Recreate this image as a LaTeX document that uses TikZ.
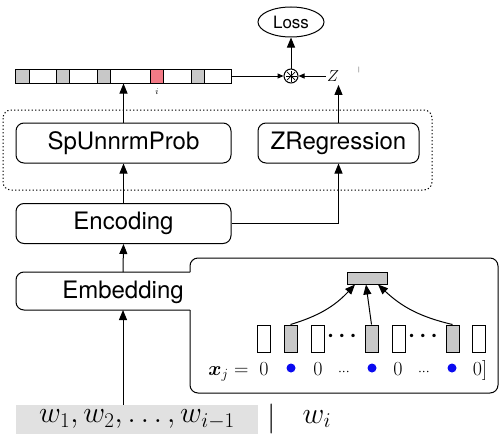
\RequirePackage{fix-cm}
\documentclass[tikz,border=0pt]{standalone}
\usepackage{amsmath}
\usepackage{bm}
\usepackage{fontspec}
\setmainfont{TeX Gyre Heros}
\usetikzlibrary{arrows.meta,shapes.geometric,calc}
\definecolor{cellgray}{RGB}{200,200,200}
\definecolor{cellpink}{RGB}{242,122,134}
\definecolor{ctxgray}{RGB}{225,225,225}
\definecolor{dotblue}{RGB}{10,10,240}
\tikzset{
  x=1pt, y=-1pt,
  every path/.style={line width=1pt},
  box/.style={draw, rounded corners=8pt, minimum height=40pt, inner sep=0pt, font=\fontsize{24}{28}\selectfont},
  arr/.style={-{Triangle[length=10pt,width=8pt]}},
  sarr/.style={-{Triangle[length=6pt,width=5pt]}},
  slot/.style={draw, minimum width=13pt, minimum height=27pt, inner sep=0pt},
  rowtxt/.style={font=\fontsize{20}{24}\selectfont, inner sep=0pt, anchor=base},
  gapdots/.style={font=\fontsize{22}{26}\selectfont\boldmath, inner sep=0pt},
  bdot/.style={circle, fill=dotblue, minimum size=9pt, inner sep=0pt},
}
\begin{document}
\begin{tikzpicture}
\useasboundingbox (0,0) rectangle (502,444);
% probability bar
\node[minimum width=216pt, minimum height=14pt, inner sep=0pt] (bar) at (123,76) {};
\foreach \a/\b/\c in {15/29/cellgray,29/56/white,56/69/cellgray,69/97/white,97/110/cellgray,110/150/white,150/163/cellpink,163/191/white,191/204/cellgray,204/231/white}
  \filldraw[fill=\c] (\a,69) rectangle (\b,83);
\node[font=\fontsize{9}{10}\selectfont, inner sep=0pt] (ilab) at (157,92) {$i$};
% combination
\node[circle, draw, minimum size=14pt, inner sep=0pt] (mul) at (291,76) {};
\foreach \ang in {0,45,90,135}
  \draw[line width=0.7pt] ($(mul)+(\ang:5.5)$) -- ($(mul)+(\ang+180:5.5)$);
\node[ellipse, draw, minimum width=66pt, minimum height=30pt, inner sep=0pt, font=\fontsize{17}{20}\selectfont] (loss) at (291,22) {Loss};
\node[font=\fontsize{16}{19}\selectfont, inner sep=1pt] (Z) at (333,76) {$Z$};
\node[font=\fontsize{9}{10}\selectfont, inner sep=0pt] (zt) at (359,70) {$\scriptstyle|$};
% dotted group
\draw[dash pattern=on 1.3pt off 2.2pt, rounded corners=8pt] (3,110) rectangle (432,190);
\node[box, minimum width=215pt] (sp) at (123.5,143) {SpUnnrmProb};
\node[box, minimum width=161pt] (zr) at (338.5,143) {ZRegression};
\node[box, minimum width=215pt] (enc) at (123.5,223.5) {Encoding};
% embedding with callout
\node[inner sep=0pt, font=\fontsize{24}{28}\selectfont] (emb) at (123,292) {Embedding};
\coordinate (embT) at (123,272);
\coordinate (embB) at (123,310);
\draw[rounded corners=8pt] (190,272) -- (16,272) -- (16,310) -- (190,310);
\draw[rounded corners=8pt] (190,310) -- (190,393) -- (498,393) -- (498,258) -- (190,258) -- (190,272);
% inset
\node[draw, fill=cellgray, minimum width=40pt, minimum height=12pt, inner sep=0pt] (agg) at (367,278) {};
\node[slot] (s1) at (263.5,338.5) {};
\node[slot, fill=cellgray] (s2) at (290.5,338.5) {};
\node[slot] (s3) at (317.5,338.5) {};
\node[slot, fill=cellgray] (s4) at (371.5,338.5) {};
\node[slot] (s5) at (398.5,338.5) {};
\node[slot, fill=cellgray] (s6) at (452.5,338.5) {};
\node[slot] (s7) at (478.5,338.5) {};
\node[gapdots] (d1) at (344,336) {$\cdots$};
\node[gapdots] (d2) at (425,336) {$\cdots$};
\draw[arr] (s2.north) to[bend right=15] ($(agg.south)+(-12,0)$);
\draw[arr] (s4.north) -- ($(agg.south)+(-1,0)$);
\draw[arr] (s6.north) to[bend left=15] ($(agg.south)+(11,0)$);
\node[rowtxt, anchor=base east] (xj) at (249,375) {$\bm{x}_j =$};
\node[rowtxt] (z1) at (264,375) {$0$};
\node[bdot] (b1) at (291,368) {};
\node[rowtxt] (z2) at (318,375) {$0$};
\node[rowtxt] (c1) at (345,375) {$\scriptstyle\cdots$};
\node[bdot] (b2) at (372,368) {};
\node[rowtxt] (z3) at (398,375) {$0$};
\node[rowtxt] (c2) at (425,375) {$\scriptstyle\cdots$};
\node[bdot] (b3) at (452,368) {};
\node[rowtxt] (z4) at (480,375) {$0]$};
% context
\node[fill=ctxgray, minimum width=242pt, minimum height=29pt, inner sep=0pt, font=\fontsize{30}{34}\selectfont] (ctx) at (137,419.5) {$w_1, w_2, \ldots, w_{i-1}$};
\node[inner sep=0pt, font=\fontsize{30}{34}\selectfont] (sep) at (272,419) {$|$};
\node[inner sep=0pt, font=\fontsize{30}{34}\selectfont] (wi) at (317,419) {$w_i$};
% connectors
\draw[arr] (ctx.north -| embB) -- (embB);
\draw[arr] (embT) -- (enc.south);
\draw[arr] (enc.north) -- (sp.south);
\draw[arr] (enc.east) -| (zr.south);
\draw[arr] (sp.north) -- (sp.north |- bar.south);
\draw[arr] (zr.north) -- ($(zr.north |- Z.south)+(0,2)$);
\draw[sarr] (bar.east) -- (mul.west);
\draw[sarr] (Z.west) -- (mul.east);
\draw[arr] (mul.north) -- (loss.south);
\end{tikzpicture}
\end{document}
